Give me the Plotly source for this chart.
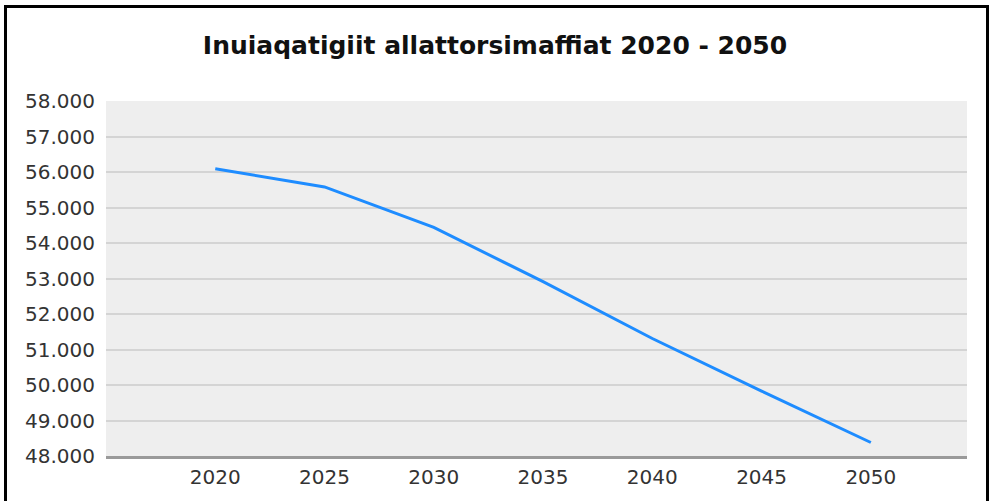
import plotly.graph_objects as go

years = [2020, 2025, 2030, 2035, 2040, 2045, 2050]
population = [56090, 55580, 54440, 52910, 51310, 49830, 48380]
y_ticks = list(range(48000, 58001, 1000))

W, H = 990, 501
L, R, T, B = 106, 23, 101, 41
pw, ph = W - L - R, H - T - B

fig = go.Figure()
fig.add_trace(
    go.Scatter(
        x=years,
        y=population,
        mode="lines",
        line=dict(color="#1e8cff", width=3),
        showlegend=False,
        hoverinfo="x+y",
    )
)

# black frame around the whole chart
fig.add_shape(
    type="rect",
    xref="paper",
    yref="paper",
    x0=(5.5 - L) / pw,
    x1=(987.5 - L) / pw,
    y0=-0.3,
    y1=(H - B - 5.5) / ph,
    line=dict(color="black", width=3),
    fillcolor="rgba(0,0,0,0)",
    layer="above",
)

fig.update_layout(
    width=W,
    height=H,
    margin=dict(l=L, r=R, t=T, b=B),
    paper_bgcolor="white",
    plot_bgcolor="#eeeeee",
    separators=",.",
    font=dict(family="DejaVu Sans", size=20, color="#333333"),
    title=dict(
        text="<b>Inuiaqatigiit allattorsimaffiat 2020 - 2050</b>",
        x=0.5,
        xref="container",
        xanchor="center",
        y=1 - 45 / H,
        yref="container",
        yanchor="middle",
        font=dict(family="DejaVu Sans", size=25, color="#111111"),
    ),
    xaxis=dict(
        range=[2015, 2054.4],
        tickvals=years,
        ticktext=[str(y) for y in years],
        showgrid=False,
        zeroline=False,
        showline=True,
        linecolor="#9a9a9a",
        linewidth=3,
        ticks="",
        ticklabelstandoff=1,
    ),
    yaxis=dict(
        range=[48000, 58000],
        tickvals=y_ticks,
        tickformat=",d",
        showgrid=True,
        gridcolor="#d4d4d4",
        gridwidth=2,
        zeroline=False,
        showline=False,
        ticks="",
        ticklabelstandoff=10,
    ),
)

fig.write_html(
    "out.html",
    config={"displayModeBar": False},
    post_script="document.body.style.margin = '0';",
)
